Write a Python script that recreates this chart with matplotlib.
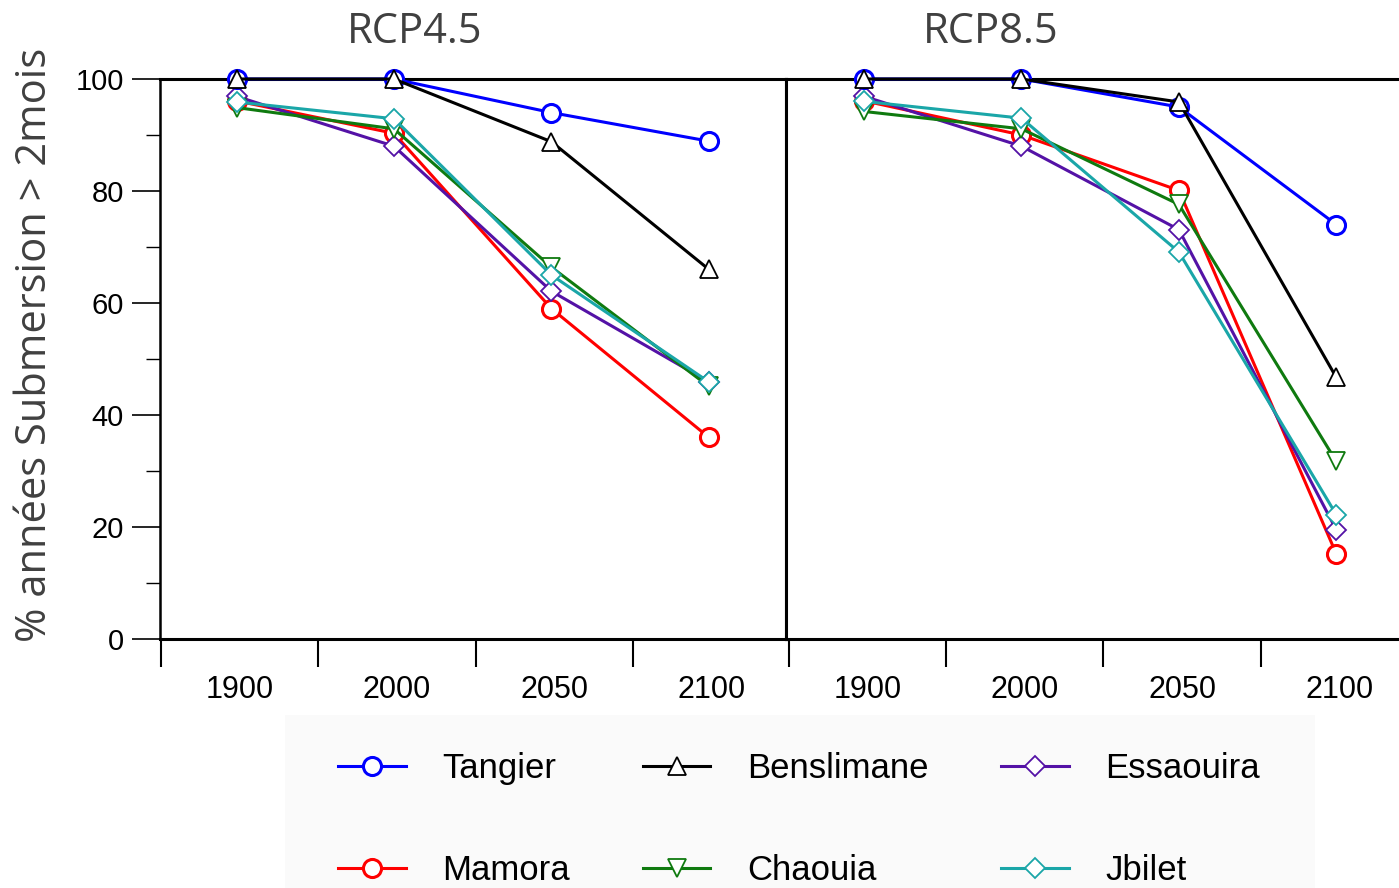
import matplotlib
matplotlib.use("Agg")
import matplotlib.pyplot as plt
from matplotlib.patches import Rectangle

YEARS = ["1900", "2000", "2050", "2100"]
SCENARIOS = ["RCP4.5", "RCP8.5"]
STATIONS = ["Tangier", "Benslimane", "Essaouira", "Mamora", "Chaouia", "Jbilet"]

# % of years with submersion > 2 months, per station, per scenario
rcp45 = {
    "Tangier":    [100, 100, 94.0, 88.9],
    "Benslimane": [100, 100, 88.8, 66.0],
    "Essaouira":  [96.9, 88.0, 62.1, 45.9],
    "Mamora":     [96.1, 90.3, 59.0, 36.0],
    "Chaouia":    [94.9, 91.1, 66.4, 45.1],
    "Jbilet":     [95.9, 92.9, 65.0, 45.9],
}
rcp85 = {
    "Tangier":    [100, 100, 95.0, 74.0],
    "Benslimane": [100, 100, 95.9, 46.7],
    "Essaouira":  [96.9, 88.0, 73.1, 19.5],
    "Mamora":     [96.1, 90.0, 80.1, 15.2],
    "Chaouia":    [94.2, 91.1, 77.6, 31.7],
    "Jbilet":     [96.0, 93.0, 69.1, 22.2],
}

STYLE = {
    "Tangier":    dict(color="#0000ff", marker="o", ms=13, mew=2.2, z=5),
    "Benslimane": dict(color="#000000", marker="^", ms=13, mew=1.3, z=6),
    "Essaouira":  dict(color="#5412a6", marker="D", ms=10, mew=1.3, z=3),
    "Mamora":     dict(color="#ff0000", marker="o", ms=13, mew=2.2, z=2),
    "Chaouia":    dict(color="#0f7a0f", marker="v", ms=13, mew=1.3, z=3.5),
    "Jbilet":     dict(color="#1aa6a8", marker="D", ms=10, mew=1.3, z=4),
}

FONT = "Liberation Sans"
GREY = "#404040"
W, H = 1399, 888


def fx(px):
    return px / W


def fy(py):
    return (H - py) / H


def main():
    fig = plt.figure(figsize=(W / 100, H / 100), dpi=100)
    fig.patch.set_facecolor("white")

    # faint legend background, behind everything
    fig.patches.append(Rectangle((fx(285), 0), (1315 - 285) / W, (888 - 715) / H,
                                 transform=fig.transFigure, facecolor="#fafafa",
                                 edgecolor="none", zorder=-5))

    ax1 = fig.add_axes([fx(160), fy(639), (786 - 160) / W, (639 - 79) / H])
    ax2 = fig.add_axes([fx(786), fy(639), 629 / W, (639 - 79) / H])
    x = range(len(YEARS))
    handles = {}
    for ax, data, xl in ((ax1, rcp45, (-0.486, 3.49)), (ax2, rcp85, (-0.496, 3.5))):
        for name in STATIONS:
            s = STYLE[name]
            ln, = ax.plot(x, data[name], color=s["color"], lw=2.2, marker=s["marker"],
                          ms=s["ms"], mfc="white", mec=s["color"], mew=s["mew"],
                          zorder=s["z"], clip_on=False, label=name)
            handles[name] = ln
        ax.set_xlim(*xl)
        ax.set_ylim(0, 100)
        ax.set_xticks([i - 0.48 for i in x])
        ax.set_xticklabels([])
        ax.set_xticks([i + 0.02 for i in x], minor=True)
        ax.set_xticklabels(YEARS, minor=True, fontsize=22, fontfamily=FONT)
        ax.tick_params(axis="x", which="major", direction="out", length=20, width=1.5)
        ax.tick_params(axis="x", which="minor", length=0, pad=26)
        for sp in ax.spines.values():
            sp.set_linewidth(2.2)
        ax.set_facecolor("white")

    ax1.set_yticks([0, 20, 40, 60, 80, 100])
    ax1.set_yticklabels(["0", "20", "40", "60", "80", "100"], fontsize=21, fontfamily=FONT)
    ax1.set_yticks([10, 30, 50, 70, 90], minor=True)
    ax1.tick_params(axis="y", which="major", direction="out", length=20, width=1.2, pad=6)
    ax1.tick_params(axis="y", which="minor", direction="out", length=10, width=1.0)
    ax1.spines["left"].set_linewidth(1.8)
    ax2.set_yticks([])
    ax2.spines["right"].set_visible(False)

    for name, cx in zip(SCENARIOS, (415, 991)):
        fig.text(fx(cx), fy(32), name, ha="center", va="center", fontsize=30,
                 fontfamily="Open Sans", color=GREY)
    fig.text(fx(35), fy(345), "% années Submersion > 2mois", rotation=90, ha="center",
             va="center", fontsize=30, fontfamily="Open Sans", color=GREY)

    order = ["Tangier", "Mamora", "Benslimane", "Chaouia", "Essaouira", "Jbilet"]
    fig.legend([handles[n] for n in order], order, ncol=3, loc="upper left",
               bbox_to_anchor=(fx(338), fy(752)), frameon=False, borderpad=0,
               prop={"family": FONT, "size": 25}, handlelength=1.95, handletextpad=1.05,
               columnspacing=2.1, labelspacing=2.0, numpoints=1, borderaxespad=0)

    fig.savefig("out.png", dpi=100)
    plt.close(fig)


if __name__ == "__main__":
    main()
